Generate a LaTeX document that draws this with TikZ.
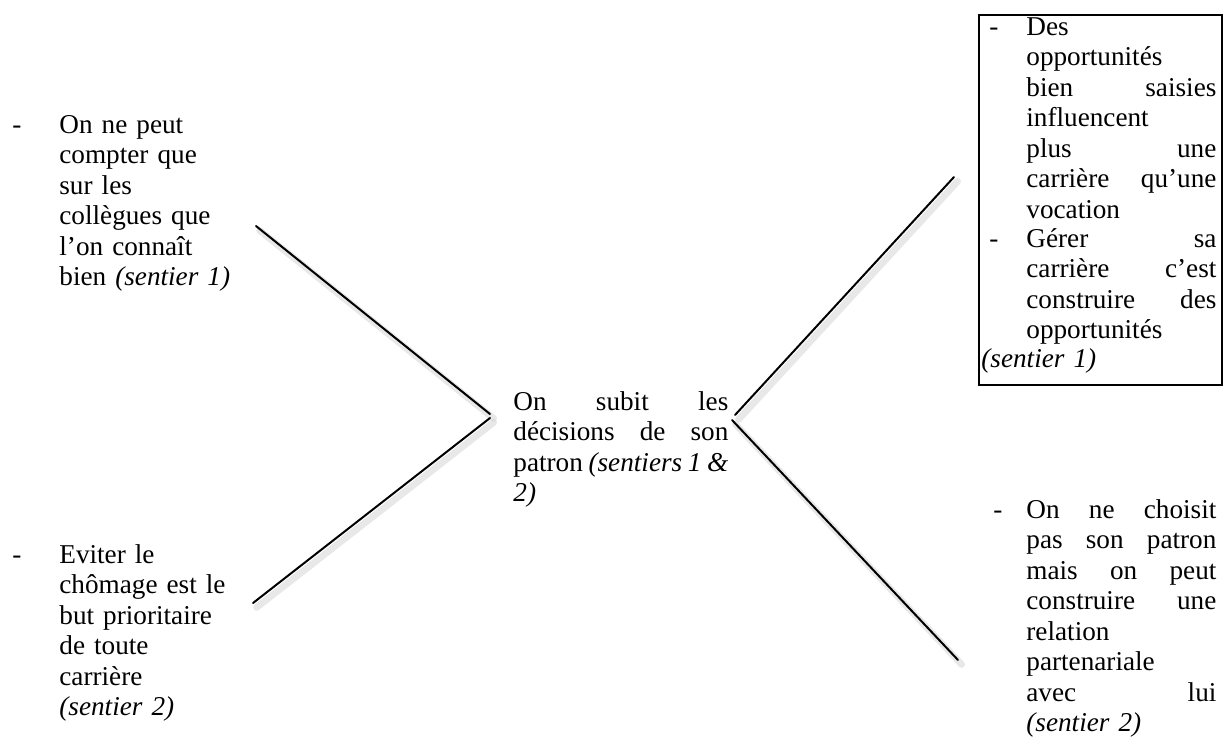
\documentclass[tikz,border=0pt]{standalone}
\usepackage{fontspec}
\setmainfont{Liberation Serif}
\usetikzlibrary{positioning}

% justified lines: words spread with \hfill
\newcommand\jcen[1]{\makebox[107.5pt][l]{#1}}
\newcommand\jrig[1]{\makebox[95pt][l]{#1}}

\begin{document}
\begin{tikzpicture}[x=0.5pt,y=-0.5pt,
  txt/.style={anchor=base west,inner sep=0pt,align=left,text width=#1,
    font=\fontsize{13.6}{15.25}\selectfont},
  dashmark/.style={anchor=base west,inner sep=0pt,font=\fontsize{13.6}{15.25}\selectfont},
  stroke/.style={line width=1pt,line cap=round},
  shadowline/.style={draw=black!18,line width=3.4pt,opacity=0.5,line cap=round,
    transform canvas={xshift=1.8pt,yshift=-2.2pt}}]
\useasboundingbox (0,0) rectangle (1224,752);
% ---- text blocks ----
\node[dashmark] (dashA) at (12,133) {-};
\node[txt=88pt] (cols) at (59,133) {On ne peut\\compter que\\sur les\\collègues que\\l’on connaît\\bien \textit{(sentier 1)}};
\node[dashmark] (dashB) at (12,563) {-};
\node[txt=88pt] (chom) at (59,563) {Eviter le\\chômage est le\\but prioritaire\\de toute\\carrière\\\textit{(sentier 2)}};
\node[txt=107.5pt] (patr) at (513,410) {\jcen{On\hfill subit\hfill les}\\\jcen{décisions\hfill de\hfill son}\\\jcen{patron\hfill \textit{(sentiers\hfill 1\hfill \&}}\\\textit{2)}};
\node[dashmark] (dashC) at (989,35) {-};
\node[txt=95pt] (oppo) at (1026,35) {Des\\opportunités\\\jrig{bien\hfill saisies}\\influencent\\\jrig{plus\hfill une}\\\jrig{carrière\hfill qu’une}\\vocation};
\node[dashmark] (dashD) at (989,247) {-};
\node[txt=95pt] (gere) at (1026,247) {\jrig{Gérer\hfill sa}\\\jrig{carrière\hfill c’est}\\\jrig{construire\hfill des}\\opportunités};
\node[txt=60pt] (sent) at (981,367) {\textit{(sentier 1)}};
\draw[line width=1pt] (979,15) rectangle (1222,385);
\node[dashmark] (dashE) at (993,518) {-};
\node[txt=95pt] (patn) at (1026,518) {\jrig{On\hfill ne\hfill choisit}\\\jrig{pas\hfill son\hfill patron}\\\jrig{mais\hfill on\hfill peut}\\\jrig{construire\hfill une}\\relation\\partenariale\\\jrig{avec\hfill lui}\\\textit{(sentier 2)}};
% ---- chevrons ----
\coordinate (lt) at (256,226);
\coordinate (lv) at (490,414);
\coordinate (lw) at (490,418);
\coordinate (lb) at (253,603);
\coordinate (rt) at (954,177);
\coordinate (rv) at (735,415);
\coordinate (rw) at (732,420);
\coordinate (rb) at (958,660);
\foreach \a/\b in {lt/lv,lw/lb,rv/rt,rw/rb} {
  \draw[shadowline] (\a) -- (\b);
  \draw[stroke] (\a) -- (\b);
}
\end{tikzpicture}
\end{document}
